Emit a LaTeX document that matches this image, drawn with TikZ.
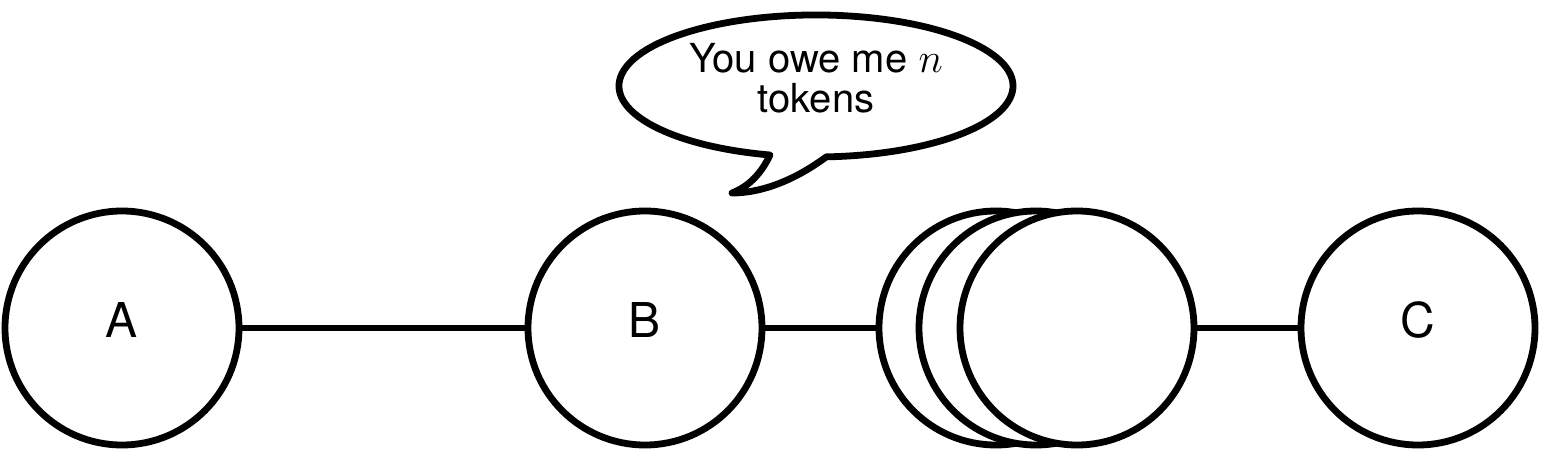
\documentclass[tikz,border=0pt]{standalone}
\usepackage{fontspec}
\setmainfont{TeX Gyre Heros}

\tikzset{every picture/.style={line width=3.4pt}}
\tikzset{
  party/.style={draw, circle, fill=white, minimum size=117pt, inner sep=0pt,
    font=\fontsize{24}{28}\selectfont, text depth=8.5pt},
  bubbletext/.style={align=center, inner sep=0pt, font=\fontsize{20}{20}\selectfont}
}

\begin{document}
\begin{tikzpicture}[x=0.5pt,y=0.5pt,yscale=-1]
\useasboundingbox (0,0) rectangle (1542,466);

%Shape: Circle
\node [party] (A) at (122,328) {A};
%Shape: Circle
\node [party] (B) at (645,328) {B};
%Shape: Circle (stacked)
\node [party] (S1) at (996,328) {};
\node [party] (S2) at (1036,328) {};
\node [party] (S3) at (1077,328) {};
%Shape: Circle
\node [party] (C) at (1418,328) {C};

%Straight Lines
\draw (A) -- (B);
\draw (B) -- (S1);
\draw (S3) -- (C);

%Shape: Speech bubble
\draw [fill=white, line join=round] (770,155) arc[start angle=103.5, end angle=447, x radius=197, y radius=71]
  .. controls (795,180) and (762,193) .. (732,193)
  .. controls (750,186) and (762,172) .. cycle;

% Text Node
\node [bubbletext] (msg) at (816,78) {You owe me $n$\\tokens};

\end{tikzpicture}
\end{document}
